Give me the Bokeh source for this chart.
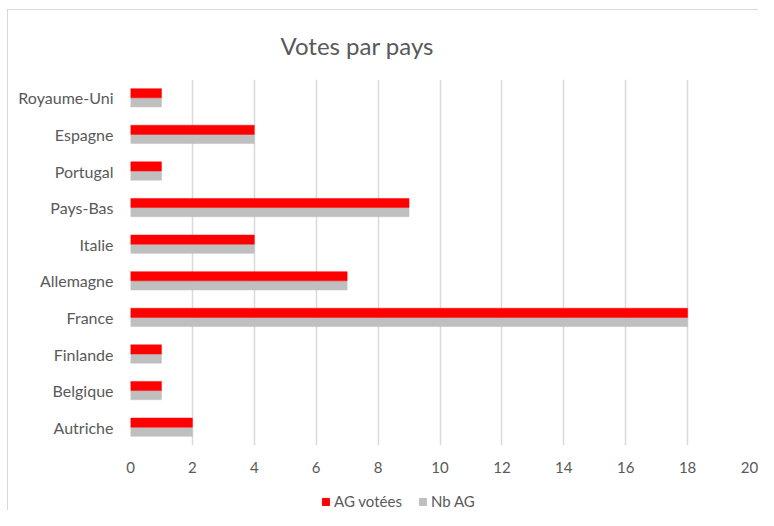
from bokeh.plotting import figure
from bokeh.layouts import column
from bokeh.models import FactorRange, Range1d, Legend, LegendItem, ColumnDataSource, FixedTicker
from bokeh.transform import dodge
from bokeh.embed import file_html
from bokeh.resources import INLINE

countries = ["Autriche", "Belgique", "Finlande", "France", "Allemagne", "Italie",
             "Pays-Bas", "Portugal", "Espagne", "Royaume-Uni"]
ag_votees = [2, 1, 1, 18, 7, 4, 9, 1, 4, 1]
nb_ag = [2, 1, 1, 18, 7, 4, 9, 1, 4, 1]
x_ticks = [0, 2, 4, 6, 8, 10, 12, 14, 16, 18, 20]
series_names = ["AG votées", "Nb AG"]
series_colors = ["#FF0000", "#BFBFBF"]

FONT = "Lato"
TXT = "#595959"

src = ColumnDataSource(dict(country=countries, ag=ag_votees, nb=nb_ag))

p = figure(width=758, height=477, output_backend="svg", toolbar_location=None,
           y_range=FactorRange(*countries, range_padding=0), x_range=Range1d(0, 20),
           min_border_left=130, min_border_right=9, min_border_top=79, min_border_bottom=32)
p.border_fill_color = None
p.background_fill_color = "white"

p.title.text = "Votes par pays"
p.title.text_font = FONT
p.title.text_font_size = "24px"
p.title.text_font_style = "normal"
p.title.text_color = TXT
p.title.align = "left"
p.title.offset = 150
p.title.standoff = 40

p.hbar(y=dodge("country", -0.125, range=p.y_range), right="nb", height=0.25, left=0,
       source=src, fill_color=series_colors[1], line_color=series_colors[1], line_width=0.5)
p.hbar(y=dodge("country", 0.125, range=p.y_range), right="ag", height=0.25, left=0,
       source=src, fill_color=series_colors[0], line_color=series_colors[0], line_width=0.5)

p.outline_line_color = None
p.ygrid.grid_line_color = None
p.xgrid.grid_line_color = "#d9d9d9"
p.xgrid.grid_line_width = 1.5
p.xaxis.ticker = FixedTicker(ticks=x_ticks)

for ax in (p.xaxis[0], p.yaxis[0]):
    ax.axis_line_color = None
    ax.major_tick_line_color = None
    ax.minor_tick_line_color = None
    ax.major_tick_out = 0
    ax.major_tick_in = 0
    ax.major_label_text_font = FONT
    ax.major_label_text_font_size = "15px"
    ax.major_label_text_color = TXT
p.yaxis.major_label_text_font_size = "16px"
p.yaxis.major_label_standoff = 17
p.xaxis.major_label_standoff = 16

# legend strip below the chart (its frame is aligned with the chart frame)
lg = figure(width=758, height=33, output_backend="svg", toolbar_location=None,
            x_range=Range1d(0, 1), y_range=Range1d(0, 1), min_border=0)
lg.border_fill_color = None
lg.background_fill_color = None
lg.outline_line_color = None
lg.axis.visible = False
lg.grid.visible = False
items = []
for name, col in zip(series_names, series_colors):
    # single swatch entry kept outside the visible range; only its legend glyph shows
    r = lg.hbar(y=[-5], right=[1], height=0.5, fill_color=col, line_color=col)
    items.append(LegendItem(label=name, renderers=[r]))
legend = Legend(items=items, orientation="horizontal", location=(191, 0),
                glyph_width=9, glyph_height=9, label_standoff=4, spacing=16,
                padding=0, margin=0, border_line_color=None, background_fill_alpha=0,
                label_text_font=FONT, label_text_font_size="15px", label_text_color=TXT)
lg.add_layout(legend, "center")

layout = column(p, lg, spacing=0)
layout.styles = {"background-color": "white",
                 "box-shadow": "inset 7px 9px 0 0 white, inset 8px 10px 0 0 #d9d9d9"}

open("out.html", "w").write(file_html(layout, INLINE))
